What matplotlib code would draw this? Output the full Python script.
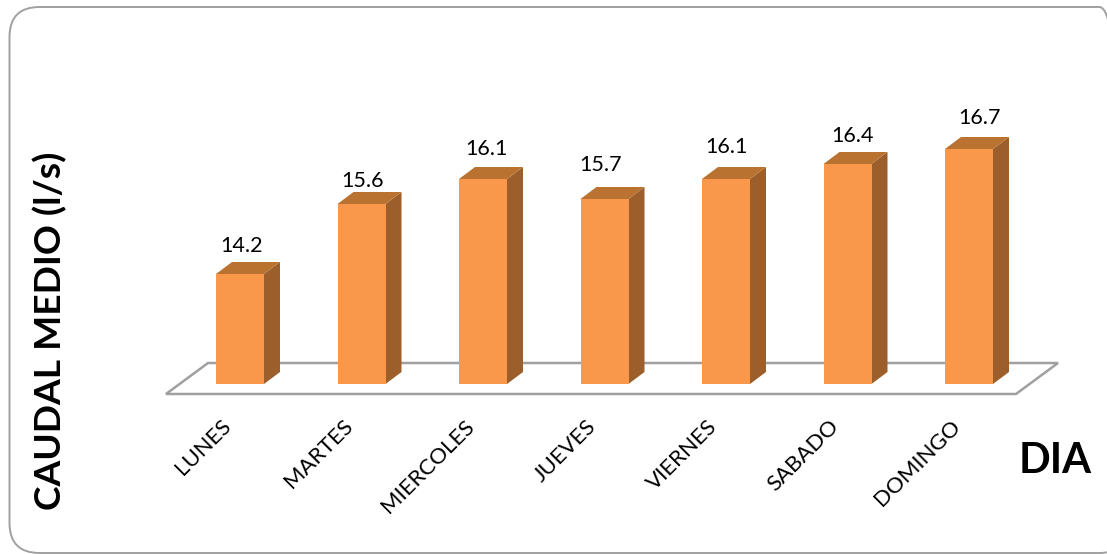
import matplotlib
matplotlib.use('Agg')
import matplotlib.pyplot as plt
from matplotlib.patches import FancyBboxPatch, Polygon
from matplotlib.transforms import IdentityTransform

dias = ['LUNES', 'MARTES', 'MIERCOLES', 'JUEVES', 'VIERNES', 'SABADO', 'DOMINGO']
caudal = [14.2, 15.6, 16.1, 15.7, 16.1, 16.4, 16.7]

# the value labels were placed by hand in the original, nudges in px
label_dx = [2, 1, 3, -4, 0, 5, 11]
label_dy = [28, 23, 30, 34, 32, 28, 31]

plt.rcParams['font.family'] = ['Lato', 'DejaVu Sans']

W, H = 1107, 554
fig = plt.figure(figsize=(W / 100, H / 100), dpi=100)
ax = fig.add_axes([0, 0, 1, 1])

# one category is 121.5 px wide, one l/s is 50 px tall, first bar centred on x=240, y=12 sits on y=384
xstep = 121.5
ystep = 50.0
ax.set_xlim(-240 / xstep, (W - 240) / xstep)
ax.set_ylim(12 - (H - 384) / ystep, 12 + 384 / ystep)
ax.axis('off')

# outer rounded frame, runs off the right edge of the picture
frame = FancyBboxPatch((9.5, 1), 1120, 546, boxstyle='round,pad=0,rounding_size=30',
                       transform=IdentityTransform(), fc='none', ec='#A0A0A0', lw=1.4)
fig.add_artist(frame)

base = 12
barw = 48 / xstep
depthx = 16 / xstep
depthy = 12 / ystep

# floor of the 3d chart
floor_pts = [(-74 / xstep, base - 10 / ystep), (776 / xstep, base - 10 / ystep),
             (818 / xstep, base + 21 / ystep), (-32 / xstep, base + 21 / ystep)]
ax.add_patch(Polygon(floor_pts, closed=True, fc='white', ec='#A0A0A0', lw=1.8, zorder=1))

ax.bar(range(len(dias)), [v - base for v in caudal], bottom=base, width=barw,
       color='#F9974A', edgecolor='none', zorder=3)

for i, v in enumerate(caudal):
    l = i - barw / 2
    r = i + barw / 2
    side = [(r, base), (r + depthx, base + depthy), (r + depthx, v + depthy), (r, v)]
    top = [(l, v), (l + depthx, v + depthy), (r + depthx, v + depthy), (r, v)]
    ax.add_patch(Polygon(side, closed=True, fc='#9C5F2B', ec='none', zorder=2))
    ax.add_patch(Polygon(top, closed=True, fc='#B9722F', ec='none', zorder=2))
    ax.text(i + label_dx[i] / xstep, v + label_dy[i] / ystep, '%.1f' % v, ha='center', va='center',
            fontsize=15.5, color='black', zorder=4)
    ax.annotate(dias[i], (i, base), xytext=(-19, -32), textcoords='offset pixels',
                rotation=45, rotation_mode='anchor', ha='right', va='top',
                fontsize=16, color='black')

fig.text(1055 / W, 1 - 461 / H, 'DIA', ha='center', va='center', fontsize=30, fontweight='bold')
fig.text(50 / W, 1 - 331 / H, 'CAUDAL MEDIO (l/s)', rotation=90, ha='center', va='center',
         fontsize=26.7, fontweight='bold')

fig.savefig('out.png', dpi=100)
